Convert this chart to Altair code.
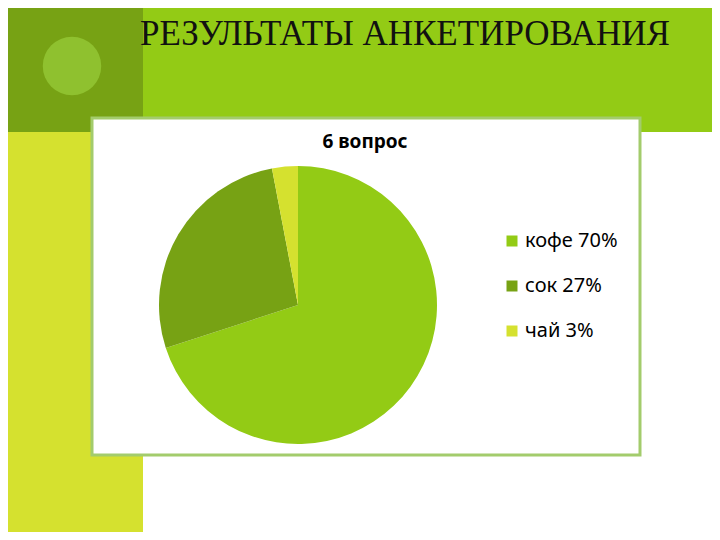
import altair as alt
import pandas as pd

# data
categories = ["кофе 70%", "сок 27%", "чай 3%"]
values = [70, 27, 3]
colors = ["#93CB15", "#77A214", "#D5E12F"]
slide_title = "РЕЗУЛЬТАТЫ АНКЕТИРОВАНИЯ"
chart_title = "6 вопрос"

df = pd.DataFrame({"cat": categories, "val": values, "order": [0, 1, 2]})
one = pd.DataFrame({"a": [0]})

W, H = 704, 524

def box(x, x2, y, y2, color, **kw):
    return alt.Chart(one).mark_rect(color=color, **kw).encode(
        x=alt.value(x), x2=alt.value(x2), y=alt.value(y), y2=alt.value(y2))

dark = box(0, 135, 0, 124, "#77A214")
lime = box(135, W, 0, 124, "#93CB15")
yellow = box(0, 135, 124, H, "#D5E12F")
circle = alt.Chart(one).mark_circle(color="#8FC12F", opacity=1, size=3420).encode(
    x=alt.value(64), y=alt.value(58))
panel = alt.Chart(one).mark_rect(fill="white", stroke="#A3CC6C", strokeWidth=3).encode(
    x=alt.value(84), x2=alt.value(632), y=alt.value(110), y2=alt.value(447))

title_txt = alt.Chart(pd.DataFrame({"t": [slide_title]})).mark_text(
    font="Liberation Serif", fontSize=35, align="left", baseline="alphabetic",
    color="#111111").encode(x=alt.value(132), y=alt.value(37), text="t:N")

sub_txt = alt.Chart(pd.DataFrame({"t": [chart_title]})).mark_text(
    font="Noto Sans", fontSize=19, fontWeight="bold", align="center",
    baseline="middle", color="#000000").encode(x=alt.value(357), y=alt.value(134), text="t:N")

pie = alt.Chart(df).mark_arc(outerRadius=139).encode(
    theta=alt.Theta("val:Q", stack=True),
    order=alt.Order("order:Q"),
    color=alt.Color("cat:N", sort=categories,
                    scale=alt.Scale(domain=categories, range=colors),
                    legend=alt.Legend(title=None, orient="none", legendX=494, legendY=223,
                                      symbolType="square", symbolSize=121,
                                      symbolStrokeWidth=0, labelFontSize=20,
                                      labelFont="Noto Sans", labelColor="#000000",
                                      rowPadding=25, labelOffset=3)),
    x=alt.value(290), y=alt.value(297),
)

chart = alt.layer(dark, lime, yellow, circle, panel, title_txt, sub_txt, pie).properties(
    width=W, height=H, autosize=alt.AutoSizeParams(type="none"),
    padding=0,
).configure_view(stroke=None).configure(background="white")

chart.save("out.html", embed_options={"renderer": "svg", "actions": False})
